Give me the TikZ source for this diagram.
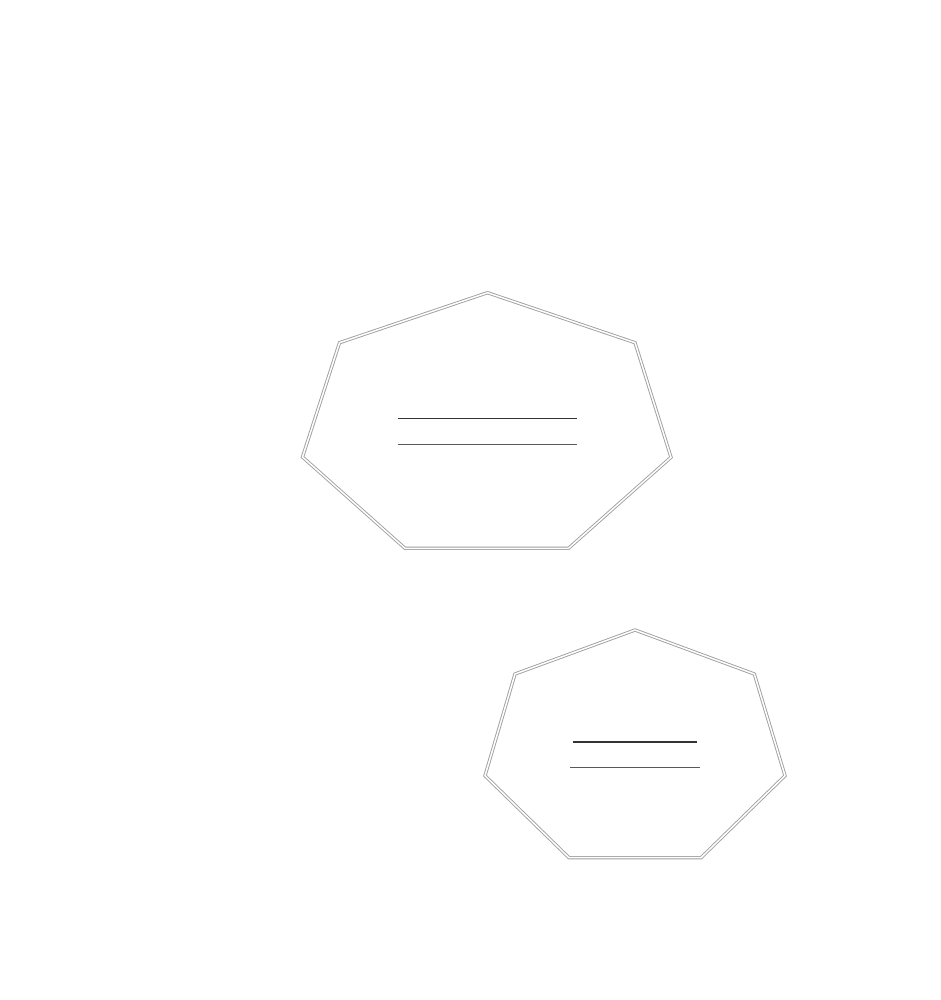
\documentclass[tikz,border=0pt]{standalone}
\usepackage{tikz}
\tikzstyle{heptagon} = [draw=gray!75, line width=0.9pt, double=white, double distance=1.5pt, line join=miter]
\tikzstyle{rulea} = [draw=black!80, line width=1.1pt]
\tikzstyle{ruleb} = [draw=black!65, line width=1.1pt]

\begin{document}
\begin{tikzpicture}[x=1pt,y=-1pt]
        \useasboundingbox (0,0) rectangle (940,1000);
        % upper heptagon
        \draw [heptagon] (487.5,292.7) -- (635,342.7) -- (671,457.3) -- (568.5,548.3)
              -- (405,548.3) -- (302.5,457) -- (339.5,342.7) -- cycle;
        \draw [rulea] (397.5,418.3) -- (576.5,418.3);
        \draw [ruleb] (397.5,444.3) -- (576.5,444.3);
        % lower heptagon
        \draw [heptagon] (635,630) -- (754.3,674) -- (785,775.7) -- (701,857.7)
              -- (569,857.7) -- (485,775.7) -- (515,674) -- cycle;
        \draw [rulea] (573.3,742) -- (696.7,742);
        \draw [ruleb] (570,767.3) -- (700,767.3);
    \end{tikzpicture}
\end{document}
